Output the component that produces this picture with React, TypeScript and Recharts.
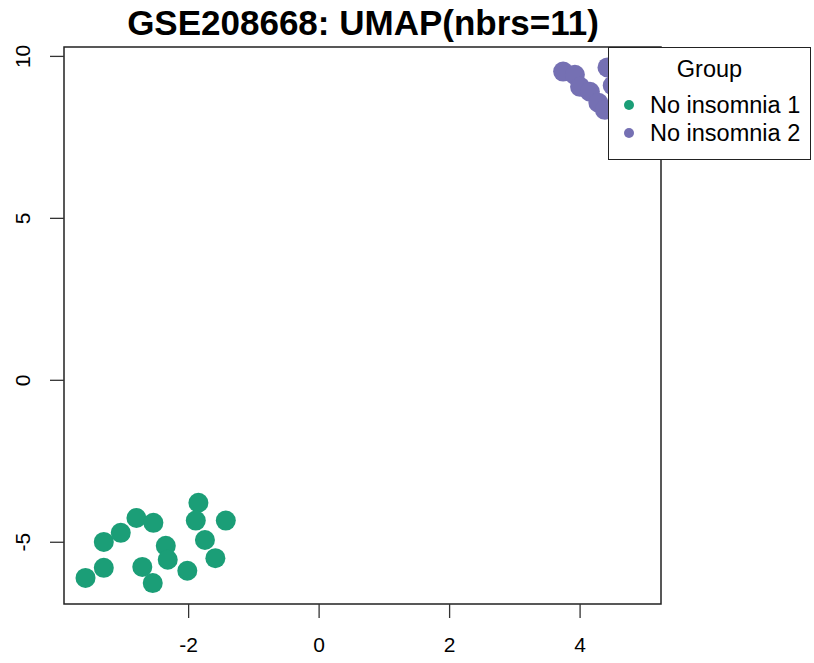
import React from 'react'
import {
  ScatterChart,
  Scatter,
  XAxis,
  YAxis,
  ReferenceArea,
  Legend,
} from 'recharts'

const groupNames = ['No insomnia 1', 'No insomnia 2']
const groupColors = ['#1B9E77', '#7570B3']

const group1X = [-3.58, -3.3, -3.3, -3.04, -2.8, -2.54, -2.35, -2.32, -2.71, -2.55, -2.02, -1.85, -1.89, -1.75, -1.59, -1.43]
const group1Y = [-6.1, -5.79, -4.99, -4.71, -4.25, -4.4, -5.11, -5.54, -5.76, -6.26, -5.88, -3.78, -4.33, -4.93, -5.49, -4.33]

const group2X = [3.74, 3.92, 4.0, 4.15, 4.28, 4.38, 4.42, 4.55, 4.7, 4.85, 4.6, 4.95, 4.75, 5.0, 4.5, 4.9]
const group2Y = [9.53, 9.43, 9.06, 8.91, 8.57, 8.35, 9.66, 9.6, 9.3, 9.0, 8.7, 9.5, 8.5, 8.9, 9.1, 9.75]

const xTicks = [-2, 0, 2, 4]
const yTicks = [-5, 0, 5, 10]
const xDomain = [-3.91, 5.24]
const yDomain = [-6.906, 10.29]

const FONT = '"Liberation Sans", Arial, Helvetica, sans-serif'

const toPoints = (xs: number[], ys: number[]) => xs.map((x, i) => ({ x, y: ys[i] }))

const XTick = ({ x, y, payload }: any) => (
  <text x={x} y={y + 32} textAnchor="middle" fontSize={21} fontFamily={FONT} fill="#000">
    {payload.value}
  </text>
)

const YTick = ({ x, y, payload }: any) => {
  const bx = x - 18
  return (
    <text x={bx} y={y} transform={`rotate(-90, ${bx}, ${y})`} textAnchor="middle" fontSize={21} fontFamily={FONT} fill="#000">
      {payload.value}
    </text>
  )
}

const Dot = ({ cx, cy, fill }: any) => <circle cx={cx} cy={cy} r={10} fill={fill} />

// legend box as R draws it: title centred, then one row per group
const GroupLegend = () => (
  <div
    style={{
      width: 201,
      height: 111,
      border: '1px solid #222',
      background: '#fff',
      position: 'relative',
      fontFamily: FONT,
      fontSize: 23.5,
      color: '#000',
    }}
  >
    <div style={{ position: 'absolute', left: 0, width: 201, top: 8, textAlign: 'center', lineHeight: '26px' }}>Group</div>
    {groupNames.map((name, i) => (
      <div key={name} style={{ position: 'absolute', left: 15, top: 44 + i * 28, height: 26, display: 'flex', alignItems: 'center' }}>
        <span style={{ width: 10, height: 10, borderRadius: 5, background: groupColors[i], display: 'inline-block', marginRight: 16 }} />
        <span style={{ lineHeight: '26px' }}>{name}</span>
      </div>
    ))}
  </div>
)

export default function App() {
  return (
    <div style={{ position: 'absolute', left: 0, top: 0, width: 814, height: 663, background: '#fff' }}>
      <svg width={814} height={45} style={{ position: 'absolute', left: 0, top: 0 }}>
        <text x={363} y={35} textAnchor="middle" fontSize={35} fontWeight="bold" fontFamily={FONT} fill="#000">
          GSE208668: UMAP(nbrs=11)
        </text>
      </svg>
      <ScatterChart width={814} height={663} margin={{ top: 47, right: 153, bottom: 0, left: 0 }}>
        <XAxis
          type="number"
          dataKey="x"
          domain={xDomain}
          ticks={xTicks}
          allowDataOverflow
          height={59}
          tickSize={14}
          tickLine={{ stroke: '#333', strokeWidth: 1.3 }}
          axisLine={false}
          tick={<XTick />}
        />
        <YAxis
          type="number"
          dataKey="y"
          domain={yDomain}
          ticks={yTicks}
          allowDataOverflow
          width={64}
          tickSize={14}
          tickLine={{ stroke: '#333', strokeWidth: 1.3 }}
          axisLine={false}
          tick={<YTick />}
        />
        <ReferenceArea
          x1={xDomain[0]}
          x2={xDomain[1]}
          y1={yDomain[0]}
          y2={yDomain[1]}
          fill="none"
          fillOpacity={0}
          stroke="#222"
          strokeWidth={1.5}
          ifOverflow="visible"
        />
        <Scatter name={groupNames[0]} data={toPoints(group1X, group1Y)} fill={groupColors[0]} shape={<Dot />} isAnimationActive={false} />
        <Scatter name={groupNames[1]} data={toPoints(group2X, group2Y)} fill={groupColors[1]} shape={<Dot />} isAnimationActive={false} />
        <Legend
          layout="vertical"
          align="center"
          verticalAlign="middle"
          content={<GroupLegend />}
          wrapperStyle={{ left: 608, top: 47, width: 203, height: 113 }}
        />
      </ScatterChart>
    </div>
  )
}
